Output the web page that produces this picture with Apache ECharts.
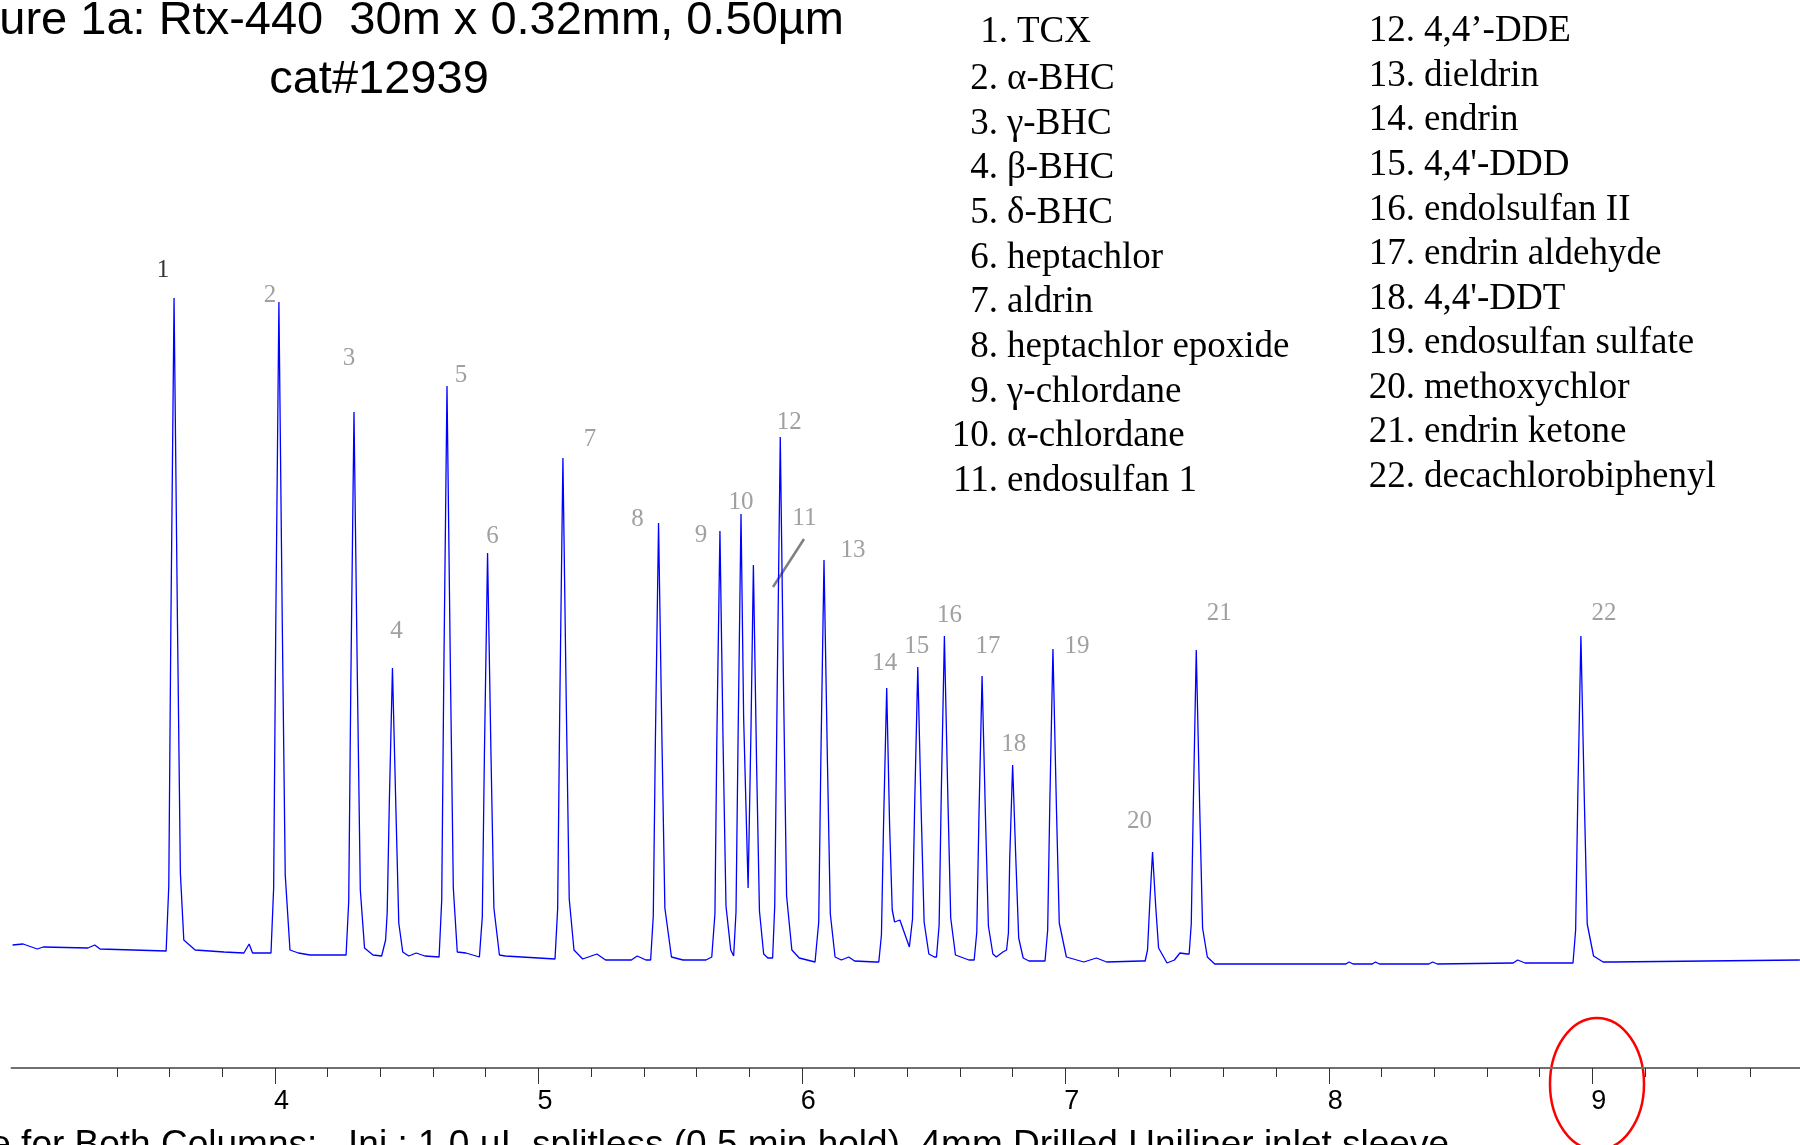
<!DOCTYPE html>
<html lang="en">
<head>
  <meta charset="UTF-8">
  <title>Rtx-440 chromatogram</title>
  <script src="https://cdn.jsdelivr.net/npm/echarts/dist/echarts.min.js"></script>
  <style>
    html,body{margin:0;padding:0;background:#fff;}
    #main{width:1800px;height:1145px;}
  </style>
</head>
<body>
  <div id="main"></div>
  <script>
    // trace: [retention time (min), signal]
    var trace = [
      [3.004,123],[3.044,124],[3.098,119],[3.120,121],[3.290,120],[3.316,123],[3.336,119],[3.587,117],
      [3.597,182],[3.605,444],[3.617,770],[3.630,444],[3.641,195],[3.654,128],[3.697,118],[3.807,116],[3.882,115],[3.902,124],[3.915,115],
      [3.985,115],[3.995,180],[4.003,440],[4.015,766],[4.028,440],[4.039,193],[4.057,118],[4.089,115],[4.133,113],[4.270,113],
      [4.280,167],[4.288,385],[4.300,656],[4.313,385],[4.324,178],[4.340,120],[4.372,113],[4.405,112],[4.420,128],
      [4.426,155],[4.434,264],[4.446,400],[4.459,260],[4.470,145],[4.485,116],[4.508,112],[4.536,115],[4.569,112],[4.623,111],
      [4.633,168],[4.641,396],[4.653,682],[4.666,396],[4.677,180],[4.692,116],[4.725,115],[4.776,111],
      [4.787,151],[4.795,313],[4.807,515],[4.820,313],[4.831,160],[4.852,113],[4.874,112],[5.063,109],
      [5.073,159],[5.081,360],[5.093,610],[5.106,360],[5.117,169],[5.135,118],[5.168,109],[5.222,114],[5.255,108],[5.353,108],[5.375,112],[5.408,108],[5.426,108],
      [5.436,152],[5.444,327],[5.456,545],[5.469,327],[5.480,160],[5.505,111],[5.549,108],[5.636,108],[5.658,111],
      [5.670,154],[5.677,324],[5.689,537],[5.701,324],[5.712,162],[5.730,118],[5.741,112],
      [5.750,156],[5.758,333],[5.769,554],[5.779,350],[5.796,180],
      [5.807,341],[5.816,503],[5.828,306],[5.839,157],[5.855,114],[5.871,110],[5.889,110],
      [5.897,162],[5.906,370],[5.918,631],[5.931,370],[5.942,172],[5.962,118],[5.990,110],[6.050,106],
      [6.064,146],[6.072,307],[6.084,508],[6.097,307],[6.108,154],[6.126,111],[6.150,108],[6.178,111],[6.200,107],[6.279,106],[6.292,106],
      [6.302,133],[6.310,243],[6.322,380],[6.333,243],[6.343,158],[6.352,146],[6.372,148],[6.392,133],[6.408,121],
      [6.420,149],[6.428,261],[6.440,401],[6.453,256],[6.464,146],[6.482,114],[6.503,111],[6.511,111],
      [6.521,143],[6.529,272],[6.541,432],[6.554,272],[6.565,150],[6.583,113],[6.634,108],[6.654,108],
      [6.664,136],[6.672,250],[6.684,392],[6.697,250],[6.708,142],[6.725,114],[6.738,111],[6.763,116],[6.777,118],
      [6.784,135],[6.789,210],[6.800,303],[6.812,210],[6.823,130],[6.840,110],[6.862,107],[6.923,107],
      [6.933,138],[6.941,263],[6.953,419],[6.966,263],[6.977,145],[7.004,111],[7.070,106],[7.118,110],[7.157,106],[7.287,107],[7.303,107],
      [7.312,118],[7.320,162],[7.331,216],[7.343,162],[7.354,120],[7.386,105],[7.414,108],[7.435,115],[7.462,114],[7.470,114],
      [7.478,144],[7.486,266],[7.497,418],[7.510,261],[7.521,140],[7.539,111],[7.567,104],[8.065,104],[8.077,106],[8.092,104],
      [8.165,104],[8.177,106],[8.192,104],[8.380,104],[8.394,106],[8.412,104],[8.700,105],[8.717,108],[8.745,105],[8.917,105],[8.927,105],
      [8.937,138],[8.945,268],[8.957,432],[8.970,268],[8.981,144],[9.005,112],[9.041,106],[9.075,106],[9.788,108]
    ];
    // peak apexes (numbered 1..22)
    var peakTimes = [3.617,4.015,4.300,4.446,4.653,4.807,5.093,5.456,5.689,5.769,5.816,
                     5.918,6.084,6.322,6.440,6.541,6.684,6.800,6.953,7.331,7.497,8.957];
    var peakHeights = [770,766,656,400,682,515,610,545,537,554,503,
                       631,508,380,401,432,392,303,419,216,418,432];
    var compounds = [
      'TCX','α-BHC','γ-BHC','β-BHC','δ-BHC','heptachlor','aldrin','heptachlor epoxide',
      'γ-chlordane','α-chlordane','endosulfan 1','4,4’-DDE','dieldrin','endrin','4,4\'-DDD',
      'endolsulfan II','endrin aldehyde','4,4\'-DDT','endosulfan sulfate','methoxychlor',
      'endrin ketone','decachlorobiphenyl'
    ];

    // layout only: where each peak number sits relative to its apex (px)
    var labelOffsets = [[-11,-28],[-9,-7],[-5,-54],[4,-37],[14,-11],[5,-17],[27,-19],[-21,-4],[-19,4],[0,-12],[51,-47],
                        [9,-15],[29,-10],[-2,-25],[-1,-21],[5,-21],[6,-30],[1,-21],[24,-3],[-13,-31],[23,-37],[23,-23]];
    var X_MAX = 9.7886;
    var SANS = '"Liberation Sans", Arial, sans-serif';
    var SERIF = '"Liberation Serif", "Times New Roman", serif';

    var myChart = echarts.init(document.getElementById('main'));

    // legend of compounds, two columns
    var graphics = [];
    for (var i = 0; i < compounds.length; i++) {
      var col = i < 11 ? 0 : 1;
      var row = col === 0 ? i : i - 11;
      var numRight, nameLeft, y;
      if (col === 0) {
        numRight = i === 0 ? 1008 : 998;
        nameLeft = i === 0 ? 1017 : 1007;
        y = i === 0 ? 32 : 79.5 + 44.64 * (row - 1);
      } else {
        numRight = 1415;
        nameLeft = 1424;
        y = 31.7 + 44.54 * row;
      }
      graphics.push({type: 'text', x: numRight, y: y, silent: true,
        style: {text: (i + 1) + '.', font: '37px ' + SERIF, fill: '#000',
                align: 'right', textAlign: 'right', verticalAlign: 'middle', textVerticalAlign: 'middle'}});
      graphics.push({type: 'text', x: nameLeft, y: y, silent: true,
        style: {text: compounds[i], font: '37px ' + SERIF, fill: '#000',
                align: 'left', textAlign: 'left', verticalAlign: 'middle', textVerticalAlign: 'middle'}});
    }
    // title
    graphics.push({type: 'text', x: 844, y: 21, silent: true,
      style: {text: 'Figure 1a: Rtx-440  30m x 0.32mm, 0.50µm', font: '47px ' + SANS, fill: '#000',
              align: 'right', textAlign: 'right', verticalAlign: 'middle', textVerticalAlign: 'middle'}});
    graphics.push({type: 'text', x: 379, y: 80, silent: true,
      style: {text: 'cat#12939', font: '47px ' + SANS, fill: '#000',
              align: 'center', textAlign: 'center', verticalAlign: 'middle', textVerticalAlign: 'middle'}});
    // conditions line, cut by the bottom edge
    graphics.push({type: 'text', x: 1449, y: 1146, silent: true,
      style: {text: 'e for Both Columns:   Inj.: 1.0 µL splitless (0.5 min hold), 4mm Drilled Uniliner inlet sleeve',
              font: '37px ' + SANS, fill: '#000',
              align: 'right', textAlign: 'right', verticalAlign: 'middle', textVerticalAlign: 'middle'}});
    // leader for peak 11
    graphics.push({type: 'line', silent: true,
      shape: {x1: 804, y1: 539, x2: 773, y2: 587},
      style: {stroke: '#808080', lineWidth: 2.5}});
    // red ellipse round the 9 min tick
    graphics.push({type: 'ellipse', silent: true,
      shape: {cx: 1597, cy: 1084, rx: 47, ry: 66},
      style: {fill: 'none', stroke: '#ff0000', lineWidth: 2.5}});

    var gridBase = {top: 68, bottom: 77, right: 0};
    var option = {
      animation: false,
      backgroundColor: '#fff',
      grid: [
        Object.assign({left: 11.5}, gridBase),
        Object.assign({left: 116.9}, gridBase),
        Object.assign({left: 274.96}, gridBase)
      ],
      xAxis: [{
        gridIndex: 0, type: 'value', min: 3, max: X_MAX,
        axisLine: {show: true, lineStyle: {color: '#707070', width: 2}},
        axisTick: {show: false}, axisLabel: {show: false}, splitLine: {show: false}
      }, {
        // minor ticks every 0.2 min
        gridIndex: 1, type: 'value', min: 3.4, max: X_MAX, interval: 0.2,
        axisLine: {show: false},
        axisTick: {show: true, length: 9, lineStyle: {color: '#333', width: 1}},
        axisLabel: {show: false}, splitLine: {show: false}
      }, {
        gridIndex: 2, type: 'value', min: 4, max: X_MAX, interval: 1,
        axisLine: {show: false},
        axisTick: {show: true, length: 16, lineStyle: {color: '#333', width: 1}},
        axisLabel: {
          show: true, margin: 20, color: '#000', fontSize: 27, fontFamily: SANS,
          padding: [0, 0, 0, 13],
          showMaxLabel: false,
          formatter: function (v) { return Math.abs(v - Math.round(v)) < 1e-6 ? String(Math.round(v)) : ''; }
        },
        splitLine: {show: false}
      }],
      yAxis: [0, 1, 2].map(function (g) {
        return {gridIndex: g, type: 'value', min: 0, max: 1000, show: false, splitLine: {show: false}};
      }),
      series: [{
        type: 'line',
        xAxisIndex: 0, yAxisIndex: 0,
        data: trace,
        showSymbol: false,
        symbol: 'none',
        lineStyle: {color: '#0000ff', width: 1.3},
        silent: true
      }, {
        type: 'scatter',
        xAxisIndex: 0, yAxisIndex: 0,
        symbolSize: 1,
        itemStyle: {color: 'rgba(0,0,0,0)'},
        silent: true,
        label: {show: true, position: 'inside', fontFamily: SERIF, fontSize: 25, color: '#888',
                formatter: function (p) { return String(p.dataIndex + 1); }},
        data: peakTimes.map(function (t, k) {
          return {value: [t, peakHeights[k]],
                  label: {offset: labelOffsets[k], color: k === 0 ? '#000' : '#888'}};
        })
      }, {
        // empty series so the tick grids exist
        type: 'line', xAxisIndex: 1, yAxisIndex: 1, data: [], silent: true
      }, {
        type: 'line', xAxisIndex: 2, yAxisIndex: 2, data: [], silent: true
      }],
      graphic: {elements: graphics}
    };
    myChart.setOption(option);
  </script>
</body>
</html>
